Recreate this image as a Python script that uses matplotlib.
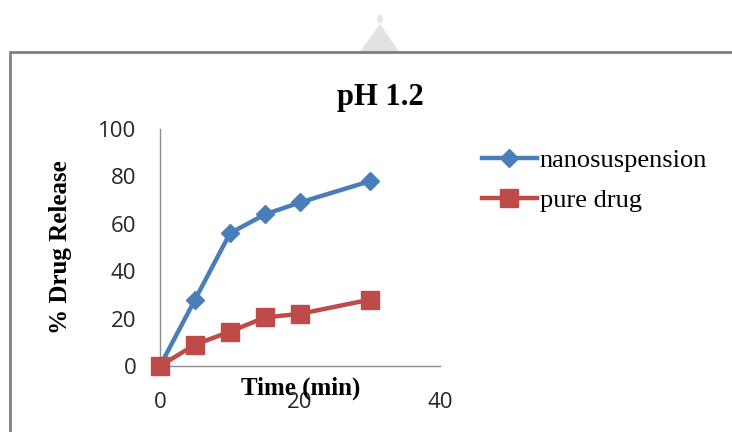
import matplotlib
matplotlib.use("Agg")
import matplotlib.pyplot as plt
from matplotlib.patches import Rectangle, Polygon, Ellipse

time_min = [0, 5, 10, 15, 20, 30]
nanosuspension = [0, 28, 56, 64, 69, 78]
pure_drug = [0, 9, 14.5, 20.5, 22, 28]
x_ticks = [0, 20, 40]
y_ticks = [0, 20, 40, 60, 80, 100]

blue = "#4a7ebb"
red = "#be4b48"
W, H = 732, 432

fig = plt.figure(figsize=(7.32, 4.32), dpi=100)
fig.patch.set_facecolor("white")

# background decorations: faint triangle and frame
fig.patches.append(Polygon([(359 / W, 1 - 53 / H), (400 / W, 1 - 53 / H), (380 / W, 1 - 24 / H)],
                           closed=True, transform=fig.transFigure, facecolor="#e2e2e2",
                           edgecolor="none", zorder=0))
fig.patches.append(Ellipse((380 / W, 1 - 19 / H), 6 / W, 9 / H, transform=fig.transFigure,
                           facecolor="#e6e6e6", edgecolor="none", zorder=0))
fig.patches.append(Rectangle((10 / W, -0.1), 1.2, 1 - 52 / H + 0.1, transform=fig.transFigure,
                             facecolor="white", edgecolor="#7f7f7f", linewidth=2, zorder=1))

ax = fig.add_axes([160 / W, 1 - 366 / H, 280 / W, 237 / H])
ax.set_zorder(2)
ax.patch.set_alpha(0)

ax.plot(time_min, nanosuspension, color=blue, lw=3.2, marker="D", ms=9.5,
        markerfacecolor=blue, markeredgecolor=blue, label="nanosuspension", clip_on=False, zorder=3)
ax.plot(time_min, pure_drug, color=red, lw=3.2, marker="s", ms=13,
        markerfacecolor=red, markeredgecolor=red, label="pure drug", clip_on=False, zorder=4)

ax.set_xlim(0, 40)
ax.set_ylim(0, 100)
ax.set_xticks(x_ticks)
ax.set_yticks(y_ticks)
for s in ["top", "right"]:
    ax.spines[s].set_visible(False)
for s in ["left", "bottom"]:
    ax.spines[s].set_color("#8c8c8c")
    ax.spines[s].set_linewidth(1.0)
ax.tick_params(axis="both", length=0, labelsize=16, labelcolor="#262626")
ax.tick_params(axis="y", pad=17)
ax.tick_params(axis="x", pad=19)
for lbl in ax.get_xticklabels() + ax.get_yticklabels():
    lbl.set_fontfamily("Open Sans")

ax.set_xlabel("Time (min)", fontfamily="Liberation Serif", fontweight="bold", fontsize=18)
ax.xaxis.set_label_coords(141 / 280, -11 / 237)
ax.set_ylabel("% Drug Release", fontfamily="Liberation Serif", fontweight="bold", fontsize=18)
ax.yaxis.set_label_coords(-88 / 280, 0.5)

fig.text(380 / W, 1 - 97 / H, "pH 1.2", ha="center", va="center",
         fontfamily="Liberation Serif", fontweight="bold", fontsize=22)

leg = ax.legend(loc="upper left", bbox_to_anchor=(471 / W, 1 - 138 / H), bbox_transform=fig.transFigure,
                frameon=False, prop={"family": "Liberation Serif", "size": 19},
                handlelength=2.1, handletextpad=0.1, labelspacing=0.62, borderaxespad=0)

fig.savefig("out.png", dpi=100, facecolor="white")
